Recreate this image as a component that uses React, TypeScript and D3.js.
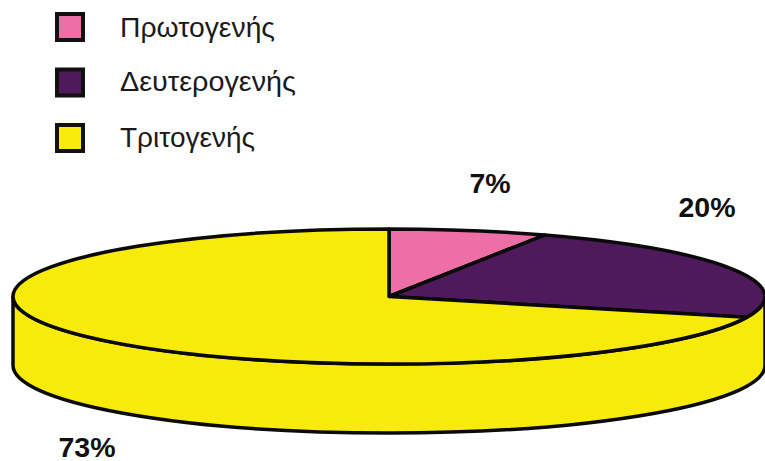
import React from "react";
import * as d3 from "d3";

const categories = ["Πρωτογενής", "Δευτερογενής", "Τριτογενής"];
const percentLabels = ["7%", "20%", "73%"];
// Slice shares as drawn in the picture (the tilted pie is not drawn to scale with its labels)
const drawnShares = [6.8, 23.2, 70];
const colors = ["#ee6fa5", "#4f1a5b", "#f8ea0b"];
const legendRows = [27, 82.5, 138];
const legendBaselines = [37, 91, 147];
const legendWidths = [155, 176, 135];
const labelPositions = [[490, 193], [707, 217], [87, 457]];

const W = 765, H = 461;
const cx = 389, cy = 296.5, rx = 376, ry = 67.5, depth = 69;

export default function App() {
  const arcs = d3.pie<number>().sort(null).value((d) => d)(drawnShares);
  const arc = d3.arc<d3.PieArcDatum<number>>().innerRadius(0).outerRadius(1);
  const x = d3.scaleLinear().domain([-1, 1]).range([cx - rx, cx + rx]);
  const wall = `M${x(-1)},${cy}V${cy + depth}A${rx},${ry} 0 0 0 ${x(1)},${cy + depth}V${cy}A${rx},${ry} 0 0 1 ${x(-1)},${cy}Z`;
  return (
    <svg width={W} height={H} viewBox={`0 0 ${W} ${H}`}
      style={{ position: "absolute", left: 0, top: 0, background: "#fff" }}>
      <path d={wall} fill={colors[2]} stroke="#0a0a0a" strokeWidth={3.5} />
      <g transform={`translate(${cx},${cy}) scale(${rx},${ry})`}>
        {arcs.map((a, i) => (
          <path key={i} d={arc(a) ?? ""} fill={colors[i]} stroke="#0a0a0a" strokeWidth={3.5}
            strokeLinejoin="round" vectorEffect="non-scaling-stroke" />
        ))}
      </g>
      {categories.map((c, i) => (
        <g key={c}>
          <rect x={57} y={legendRows[i] - 13} width={26} height={26} fill={colors[i]}
            stroke="#111" strokeWidth={4} />
          <text x={120} y={legendBaselines[i]} fontFamily="Liberation Sans, Arial, sans-serif"
            fontSize={27} fill="#1a1a1a" textLength={legendWidths[i]}
            lengthAdjust="spacingAndGlyphs">{c}</text>
        </g>
      ))}
      {percentLabels.map((p, i) => (
        <text key={p} x={labelPositions[i][0]} y={labelPositions[i][1]} textAnchor="middle"
          fontFamily="Liberation Sans, Arial, sans-serif" fontWeight="bold" fontSize={28.5} fill="#111">{p}</text>
      ))}
    </svg>
  );
}
